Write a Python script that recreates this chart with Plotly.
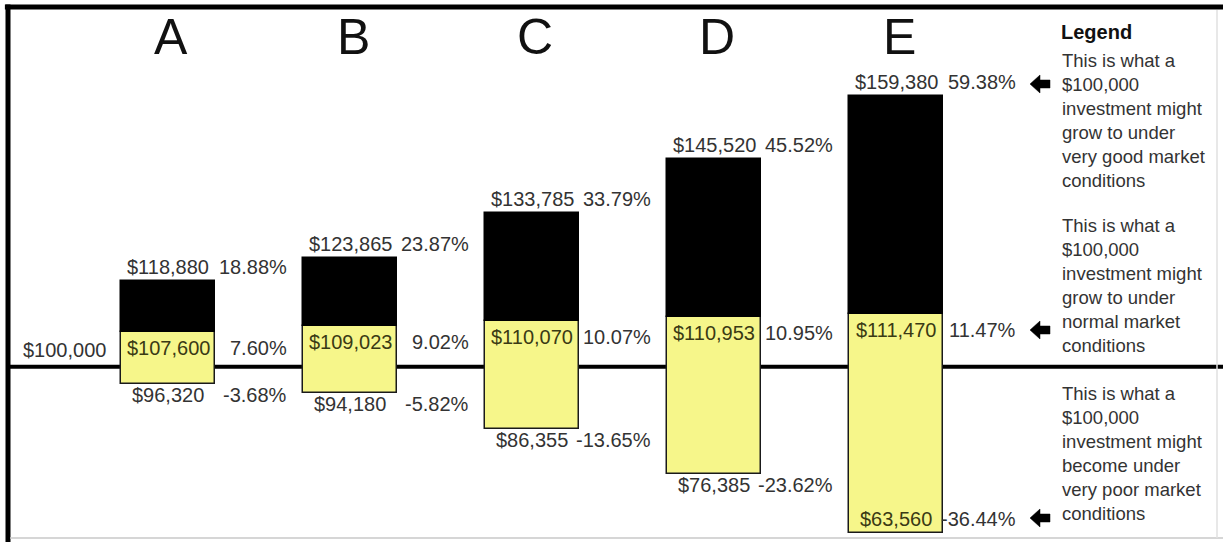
import plotly.graph_objects as go

# ---------------- data ----------------
categories = ["A", "B", "C", "D", "E"]
low_values = [96320, 94180, 86355, 76385, 63560]
normal_values = [107600, 109023, 110070, 110953, 111470]
high_values = [118880, 123865, 133785, 145520, 159380]
low_pct = ["-3.68%", "-5.82%", "-13.65%", "-23.62%", "-36.44%"]
normal_pct = ["7.60%", "9.02%", "10.07%", "10.95%", "11.47%"]
high_pct = ["18.88%", "23.87%", "33.79%", "45.52%", "59.38%"]
start_value = 100000
start_label = "$100,000"
legend_title = "Legend"
legend_blocks = [
    "This is what a<br>$100,000<br>investment might<br>grow to under<br>very good market<br>conditions",
    "This is what a<br>$100,000<br>investment might<br>grow to under<br>normal market<br>conditions",
    "This is what a<br>$100,000<br>investment might<br>become under<br>very poor market<br>conditions",
]

# ---------------- layout constants ----------------
W, H = 1223, 542
FONT = "Liberation Sans, Arial, sans-serif"
YELLOW = "#F6F68A"
TXT = "#333333"
TXT_IN = "#3a3a14"
X_RANGE = [-0.9226, 5.7935]
Y_RANGE = [61573, 180433]
BAR_W = 0.516
PCT_DX = 0.665
LBL = 20

def money(v):
    return "${:,.0f}".format(v)

xs = list(range(len(categories)))

fig = go.Figure()
fig.add_trace(go.Bar(
    x=xs, y=[n - l for n, l in zip(normal_values, low_values)], base=low_values,
    width=BAR_W, marker=dict(color=YELLOW, line=dict(color="#1a1a1a", width=1.5)),
    hoverinfo="skip", showlegend=False))
fig.add_trace(go.Bar(
    x=xs, y=[h - n for h, n in zip(high_values, normal_values)], base=normal_values,
    width=BAR_W, marker=dict(color="#000000", line=dict(color="#000000", width=1.5)),
    hoverinfo="skip", showlegend=False))

ann = []
def add(x, y, text, xanchor="center", yshift=0, xshift=0, size=LBL, color=TXT,
        xref="x", yref="y", yanchor="middle", bold=False, align="center"):
    ann.append(dict(x=x, y=y, xref=xref, yref=yref, text=("<b>%s</b>" % text) if bold else text,
                    showarrow=False, xanchor=xanchor, yanchor=yanchor, yshift=yshift,
                    xshift=xshift, align=align,
                    font=dict(family=FONT, size=size, color=color)))

px_per_unit = H / (Y_RANGE[1] - Y_RANGE[0])
for i, c in enumerate(categories):
    # big letters
    add(i, 1 - 37 / H, c, xshift=3, yref="paper", size=50, color="#111111")
    # high
    add(i, high_values[i], money(high_values[i]), yshift=14)
    add(i + PCT_DX, high_values[i], high_pct[i], xanchor="right", yshift=14)
    # normal
    add(i, normal_values[i], money(normal_values[i]), yshift=-16, color=TXT_IN)
    add(i + PCT_DX, normal_values[i], normal_pct[i], xanchor="right", yshift=-16)
    # low
    room = (low_values[i] - Y_RANGE[0]) * px_per_unit
    if room < 30:
        add(i, low_values[i], money(low_values[i]), yshift=14, color=TXT_IN)
        add(i + PCT_DX, low_values[i], low_pct[i], xanchor="right", yshift=14)
    else:
        add(i, low_values[i], money(low_values[i]), yshift=-11)
        add(i + PCT_DX, low_values[i], low_pct[i], xanchor="right", yshift=-11)

add(-0.566, start_value, start_label, yshift=17)

# legend
add(1059 / W, 1 - 32 / H, legend_title, xref="paper", yref="paper", xanchor="left",
    size=20, color="#111111", bold=True)
for txt, mid in zip(legend_blocks, [120, 285.5, 453]):
    add(1060 / W, 1 - mid / H, txt, xref="paper", yref="paper", xanchor="left",
        size=18.5, align="left")

shapes = []
# baseline at start value
shapes.append(dict(type="line", xref="paper", yref="y", x0=0.005, x1=1,
                   y0=start_value, y1=start_value, line=dict(color="#000000", width=4),
                   layer="below"))
# frame
shapes.append(dict(type="line", xref="paper", yref="paper", x0=0.004, x1=1,
                   y0=1 - 7 / H, y1=1 - 7 / H, line=dict(color="#000000", width=5)))
shapes.append(dict(type="line", xref="paper", yref="paper", x0=8 / W, x1=8 / W,
                   y0=0, y1=1 - 4.5 / H, line=dict(color="#000000", width=5)))
shapes.append(dict(type="line", xref="paper", yref="paper", x0=10 / W, x1=1,
                   y0=1 - 538 / H, y1=1 - 538 / H, line=dict(color="#c8c8c8", width=1.5)))
shapes.append(dict(type="line", xref="paper", yref="paper", x0=1217 / W, x1=1217 / W,
                   y0=1 - 538 / H, y1=1 - 10 / H, line=dict(color="#e0e0e0", width=1.5)))
# legend arrows
for ypx in [84, 330, 518]:
    shapes.append(dict(type="path", xref="paper", yref="paper", xsizemode="pixel",
                       ysizemode="pixel", xanchor=1030 / W, yanchor=1 - ypx / H,
                       path="M0,0 L10,9 L10,4 L20,4 L20,-4 L10,-4 L10,-9 Z",
                       fillcolor="#000000", line=dict(color="#000000", width=0.5)))

fig.update_layout(
    width=W, height=H, autosize=False,
    margin=dict(l=0, r=0, t=0, b=0),
    paper_bgcolor="#ffffff", plot_bgcolor="#ffffff",
    barmode="overlay", bargap=0,
    xaxis=dict(range=X_RANGE, visible=False, fixedrange=True),
    yaxis=dict(range=Y_RANGE, visible=False, fixedrange=True),
    annotations=ann, shapes=shapes, showlegend=False,
)

fig.write_html("out.html", config={"displayModeBar": False})
